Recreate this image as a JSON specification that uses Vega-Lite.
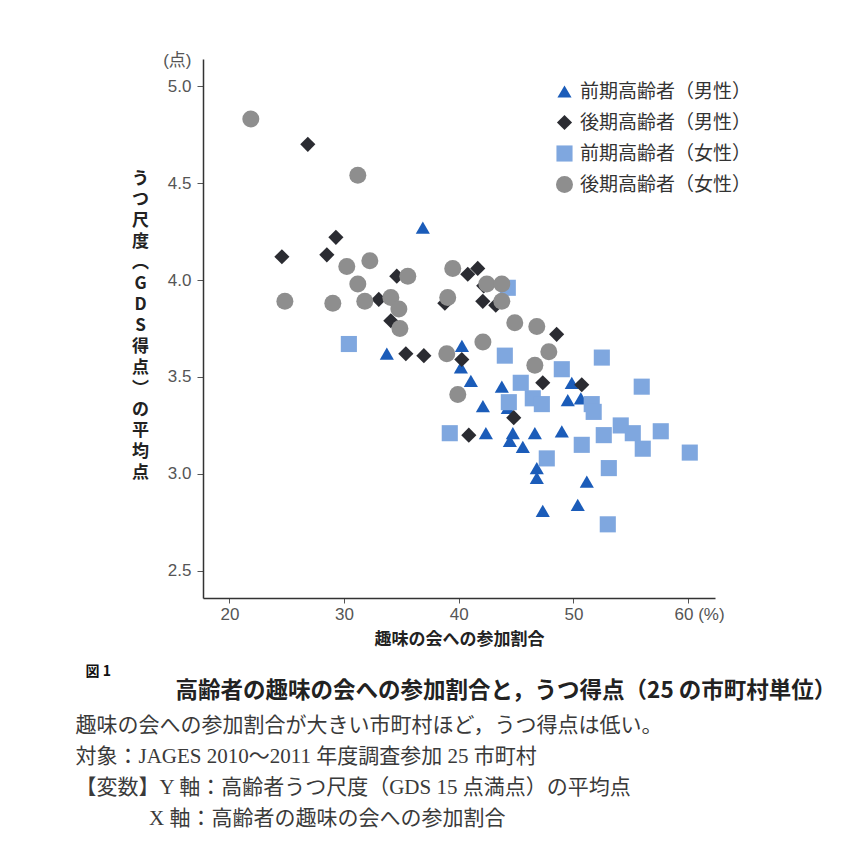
{
  "$schema": "https://vega.github.io/schema/vega-lite/v6.json",
  "background": "white",
  "padding": {"left": 75, "top": 51, "right": 5, "bottom": 5},
  "config": {"view": {"stroke": null}, "font": "Liberation Sans"},
  "title": {
    "text": ["趣味の会への参加割合が大きい市町村ほど，うつ得点は低い。", "対象：JAGES 2010～2011 年度調査参加 25 市町村", "【変数】Y 軸：高齢者うつ尺度（GDS 15 点満点）の平均点", "\u200b　　　\u2002X 軸：高齢者の趣味の会への参加割合"],
    "orient": "bottom",
    "anchor": "start",
    "font": "Liberation Serif, Noto Sans CJK JP",
    "fontSize": 21,
    "fontWeight": "normal",
    "color": "#3a3a3a",
    "lineHeight": 31,
    "dx": -10,
    "offset": 12
  },
  "vconcat": [
    {
      "width": 512,
      "height": 539,
      "title": {
        "text": "図 1",
        "subtitle": "\u200b　　　　高齢者の趣味の会への参加割合と，うつ得点（25 の市町村単位）",
        "orient": "bottom",
        "anchor": "start",
        "font": "Noto Sans CJK JP",
        "fontSize": 14,
        "fontWeight": "bold",
        "color": "#111",
        "subtitleFont": "Noto Sans CJK JP",
        "subtitleFontSize": 22.5,
        "subtitleFontWeight": "bold",
        "subtitleColor": "#222",
        "subtitlePadding": 1,
        "dx": -46,
        "offset": 18
      },
      "data": {
        "values": [
          {"group": "前期高齢者（男性）", "rate": 36.87, "score": 4.27},
          {"group": "前期高齢者（男性）", "rate": 33.73, "score": 3.62},
          {"group": "前期高齢者（男性）", "rate": 40.28, "score": 3.66},
          {"group": "前期高齢者（男性）", "rate": 40.19, "score": 3.55},
          {"group": "前期高齢者（男性）", "rate": 41.06, "score": 3.48},
          {"group": "前期高齢者（男性）", "rate": 42.11, "score": 3.35},
          {"group": "前期高齢者（男性）", "rate": 42.37, "score": 3.21},
          {"group": "前期高齢者（男性）", "rate": 43.76, "score": 3.45},
          {"group": "前期高齢者（男性）", "rate": 44.72, "score": 3.21},
          {"group": "前期高齢者（男性）", "rate": 44.46, "score": 3.17},
          {"group": "前期高齢者（男性）", "rate": 45.59, "score": 3.14},
          {"group": "前期高齢者（男性）", "rate": 46.64, "score": 3.21},
          {"group": "前期高齢者（男性）", "rate": 48.99, "score": 3.22},
          {"group": "前期高齢者（男性）", "rate": 49.86, "score": 3.47},
          {"group": "前期高齢者（男性）", "rate": 49.51, "score": 3.38},
          {"group": "前期高齢者（男性）", "rate": 50.65, "score": 3.39},
          {"group": "前期高齢者（男性）", "rate": 46.81, "score": 3.03},
          {"group": "前期高齢者（男性）", "rate": 46.81, "score": 2.98},
          {"group": "前期高齢者（男性）", "rate": 51.17, "score": 2.96},
          {"group": "前期高齢者（男性）", "rate": 47.33, "score": 2.81},
          {"group": "前期高齢者（男性）", "rate": 50.38, "score": 2.84},
          {"group": "前期高齢者（男性）", "rate": 44.28, "score": 3.34},
          {"group": "後期高齢者（男性）", "rate": 26.84, "score": 4.70},
          {"group": "後期高齢者（男性）", "rate": 24.58, "score": 4.12},
          {"group": "後期高齢者（男性）", "rate": 28.50, "score": 4.13},
          {"group": "後期高齢者（男性）", "rate": 29.29, "score": 4.22},
          {"group": "後期高齢者（男性）", "rate": 34.60, "score": 4.02},
          {"group": "後期高齢者（男性）", "rate": 33.03, "score": 3.90},
          {"group": "後期高齢者（男性）", "rate": 34.08, "score": 3.79},
          {"group": "後期高齢者（男性）", "rate": 35.39, "score": 3.62},
          {"group": "後期高齢者（男性）", "rate": 36.96, "score": 3.61},
          {"group": "後期高齢者（男性）", "rate": 38.79, "score": 3.88},
          {"group": "後期高齢者（男性）", "rate": 40.27, "score": 3.59},
          {"group": "後期高齢者（男性）", "rate": 40.88, "score": 3.20},
          {"group": "後期高齢者（男性）", "rate": 41.66, "score": 4.06},
          {"group": "後期高齢者（男性）", "rate": 40.79, "score": 4.03},
          {"group": "後期高齢者（男性）", "rate": 42.18, "score": 3.97},
          {"group": "後期高齢者（男性）", "rate": 42.10, "score": 3.89},
          {"group": "後期高齢者（男性）", "rate": 43.23, "score": 3.87},
          {"group": "後期高齢者（男性）", "rate": 48.54, "score": 3.72},
          {"group": "後期高齢者（男性）", "rate": 47.33, "score": 3.47},
          {"group": "後期高齢者（男性）", "rate": 50.73, "score": 3.46},
          {"group": "後期高齢者（男性）", "rate": 44.80, "score": 3.29},
          {"group": "前期高齢者（女性）", "rate": 30.42, "score": 3.67},
          {"group": "前期高齢者（女性）", "rate": 39.22, "score": 3.21},
          {"group": "前期高齢者（女性）", "rate": 44.28, "score": 3.96},
          {"group": "前期高齢者（女性）", "rate": 44.02, "score": 3.61},
          {"group": "前期高齢者（女性）", "rate": 52.48, "score": 3.60},
          {"group": "前期高齢者（女性）", "rate": 48.99, "score": 3.54},
          {"group": "前期高齢者（女性）", "rate": 45.41, "score": 3.47},
          {"group": "前期高齢者（女性）", "rate": 55.96, "score": 3.45},
          {"group": "前期高齢者（女性）", "rate": 44.37, "score": 3.37},
          {"group": "前期高齢者（女性）", "rate": 46.46, "score": 3.39},
          {"group": "前期高齢者（女性）", "rate": 47.25, "score": 3.36},
          {"group": "前期高齢者（女性）", "rate": 51.60, "score": 3.36},
          {"group": "前期高齢者（女性）", "rate": 51.77, "score": 3.32},
          {"group": "前期高齢者（女性）", "rate": 54.13, "score": 3.25},
          {"group": "前期高齢者（女性）", "rate": 55.18, "score": 3.21},
          {"group": "前期高齢者（女性）", "rate": 57.62, "score": 3.22},
          {"group": "前期高齢者（女性）", "rate": 52.65, "score": 3.20},
          {"group": "前期高齢者（女性）", "rate": 50.73, "score": 3.15},
          {"group": "前期高齢者（女性）", "rate": 56.05, "score": 3.13},
          {"group": "前期高齢者（女性）", "rate": 60.15, "score": 3.11},
          {"group": "前期高齢者（女性）", "rate": 47.68, "score": 3.08},
          {"group": "前期高齢者（女性）", "rate": 53.09, "score": 3.03},
          {"group": "前期高齢者（女性）", "rate": 53.00, "score": 2.74},
          {"group": "後期高齢者（女性）", "rate": 21.87, "score": 4.83},
          {"group": "後期高齢者（女性）", "rate": 31.20, "score": 4.54},
          {"group": "後期高齢者（女性）", "rate": 24.84, "score": 3.89},
          {"group": "後期高齢者（女性）", "rate": 29.02, "score": 3.88},
          {"group": "後期高齢者（女性）", "rate": 30.24, "score": 4.07},
          {"group": "後期高齢者（女性）", "rate": 32.25, "score": 4.10},
          {"group": "後期高齢者（女性）", "rate": 31.20, "score": 3.98},
          {"group": "後期高齢者（女性）", "rate": 31.81, "score": 3.89},
          {"group": "後期高齢者（女性）", "rate": 34.08, "score": 3.91},
          {"group": "後期高齢者（女性）", "rate": 34.78, "score": 3.85},
          {"group": "後期高齢者（女性）", "rate": 34.87, "score": 3.75},
          {"group": "後期高齢者（女性）", "rate": 35.56, "score": 4.02},
          {"group": "後期高齢者（女性）", "rate": 39.48, "score": 4.06},
          {"group": "後期高齢者（女性）", "rate": 39.04, "score": 3.91},
          {"group": "後期高齢者（女性）", "rate": 42.11, "score": 3.68},
          {"group": "後期高齢者（女性）", "rate": 38.96, "score": 3.62},
          {"group": "後期高齢者（女性）", "rate": 39.92, "score": 3.41},
          {"group": "後期高齢者（女性）", "rate": 42.45, "score": 3.98},
          {"group": "後期高齢者（女性）", "rate": 43.76, "score": 3.98},
          {"group": "後期高齢者（女性）", "rate": 43.76, "score": 3.89},
          {"group": "後期高齢者（女性）", "rate": 44.89, "score": 3.78},
          {"group": "後期高齢者（女性）", "rate": 46.81, "score": 3.76},
          {"group": "後期高齢者（女性）", "rate": 47.86, "score": 3.63},
          {"group": "後期高齢者（女性）", "rate": 46.64, "score": 3.56}
        ]
      },
      "mark": {"type": "point", "filled": true, "opacity": 1, "strokeWidth": 0},
      "encoding": {
        "x": {
          "field": "rate",
          "type": "quantitative",
          "scale": {"domain": [17.7, 62.35], "nice": false, "zero": false},
          "axis": {
            "values": [20, 30, 40, 50, 60],
            "grid": false,
            "labelExpr": "datum.value == 60 ? '60 (%)' : datum.label",
            "labelAlign": {"condition": {"test": "datum.value == 60", "value": "left"}, "value": "center"},
            "labelOffset": {"condition": {"test": "datum.value == 60", "value": -14}, "value": 0},
            "labelFont": "Liberation Sans",
            "labelFontSize": 17,
            "labelColor": "#555",
            "labelPadding": 3,
            "tickSize": 5,
            "tickColor": "#555",
            "domainColor": "#333",
            "domainWidth": 1.5,
            "title": "趣味の会への参加割合",
            "titleFont": "Noto Sans CJK JP",
            "titleFontSize": 17,
            "titleFontWeight": "bold",
            "titleColor": "#222",
            "titlePadding": 9
          }
        },
        "y": {
          "field": "score",
          "type": "quantitative",
          "scale": {"domain": [2.36, 5.14], "nice": false, "zero": false},
          "axis": {
            "values": [2.5, 3, 3.5, 4, 4.5, 5, 5.13],
            "grid": false,
            "labelExpr": "datum.value > 5.05 ? '(点)' : format(datum.value, '.1f')",
            "tickOpacity": {"condition": {"test": "datum.value > 5.05", "value": 0}, "value": 1},
            "labelFont": "Liberation Sans, Noto Sans CJK JP",
            "labelFontSize": 17,
            "labelColor": "#555",
            "labelPadding": 6,
            "tickSize": 6,
            "tickColor": "#555",
            "domainColor": "#333",
            "domainWidth": 1.5,
            "title": ["う", "つ", "尺", "度", "︵", "G", "D", "S", "得", "点", "︶", "の", "平", "均", "点"],
            "titleAngle": 0,
            "titleFont": "Noto Sans CJK JP",
            "titleFontSize": 17,
            "titleFontWeight": "bold",
            "titleColor": "#222",
            "titleLineHeight": 21,
            "titleAlign": "center",
            "titleBaseline": "middle",
            "titleX": -63,
            "titleY": 119
          }
        },
        "color": {
          "field": "group",
          "type": "nominal",
          "scale": {
            "domain": ["前期高齢者（男性）", "後期高齢者（男性）", "前期高齢者（女性）", "後期高齢者（女性）"],
            "range": ["#1b5cb9", "#2b2c32", "#7fa7df", "#8e8e8e"]
          },
          "legend": {
            "title": null,
            "orient": "none",
            "legendX": 352,
            "legendY": 23,
            "labelFont": "Noto Sans CJK JP",
            "labelFontSize": 19,
            "labelColor": "#333",
            "labelLimit": 400,
            "symbolSize": 130,
            "symbolOpacity": 1,
            "symbolStrokeWidth": 0,
            "rowPadding": 11,
            "labelOffset": 6,
            "encode": {"symbols": {"update": {"size": {"value": 130}}}}
          }
        },
        "shape": {
          "field": "group",
          "type": "nominal",
          "scale": {
            "domain": ["前期高齢者（男性）", "後期高齢者（男性）", "前期高齢者（女性）", "後期高齢者（女性）"],
            "range": ["triangle-up", "diamond", "square", "circle"]
          }
        },
        "size": {
          "field": "group",
          "type": "nominal",
          "scale": {
            "domain": ["前期高齢者（男性）", "後期高齢者（男性）", "前期高齢者（女性）", "後期高齢者（女性）"],
            "range": [200, 289, 160, 289]
          },
          "legend": null
        }
      }
    }
  ]
}
